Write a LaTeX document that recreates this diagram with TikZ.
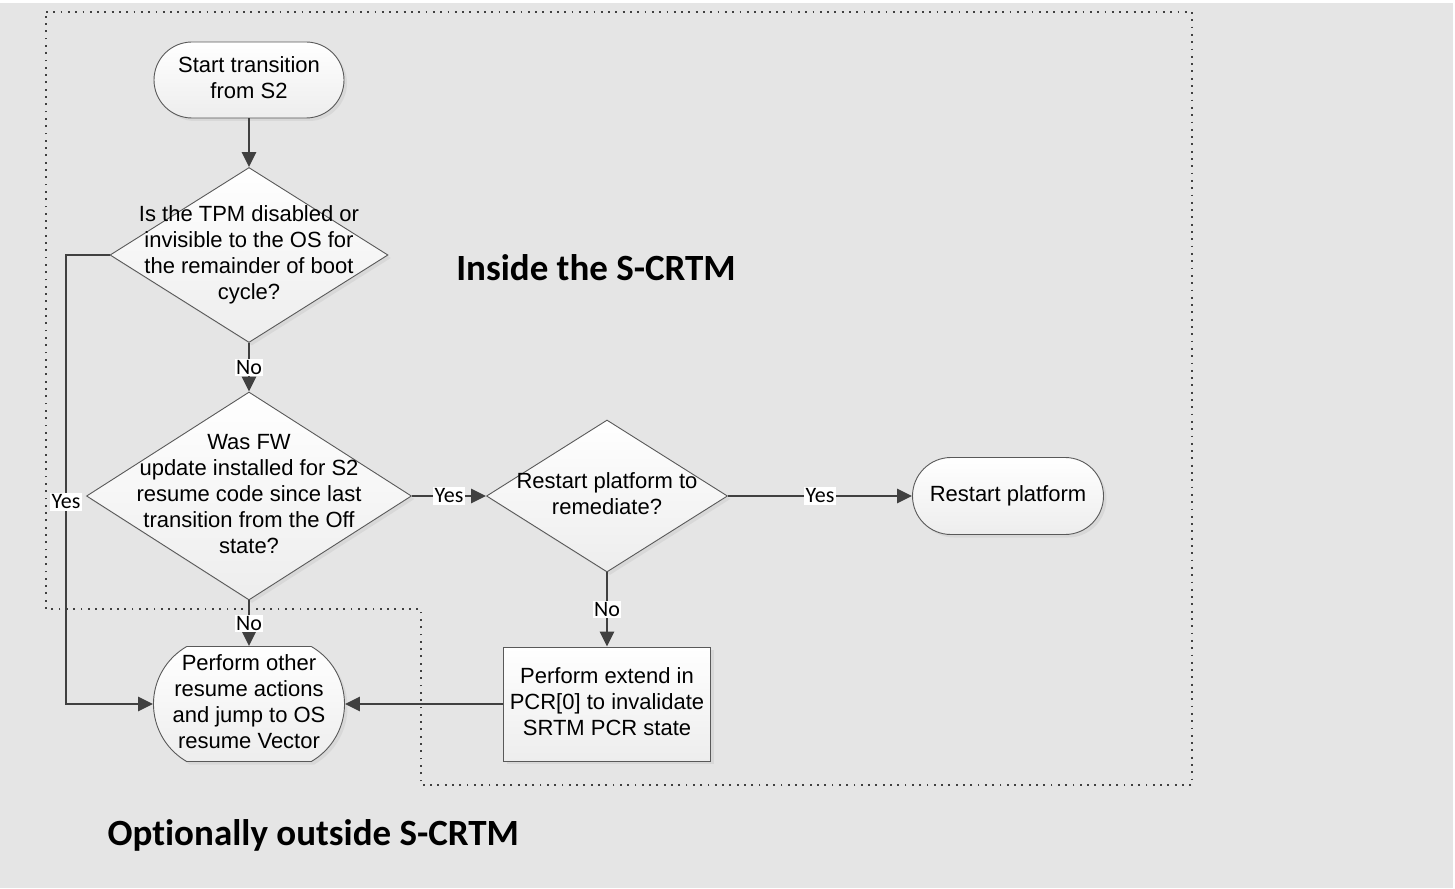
\documentclass[tikz,border=0pt]{standalone}
\usepackage{fontspec}
\setmainfont{Liberation Sans}
\newfontfamily\carlito{Carlito}[Ligatures=NoCommon]
\usetikzlibrary{shapes.geometric,shapes.misc,arrows.meta,shadows}
\newcommand{\flowtext}[1]{\smash{\makebox[0pt]{\raisebox{-.25em}{\begin{tabular}{@{}c@{}}#1\end{tabular}}}}}

\begin{document}
\begin{tikzpicture}[x=1pt, y=-1pt,
    flowbox/.style={draw=black!65, line width=.9pt, top color=white, bottom color=black!7,
      drop shadow={shadow xshift=3pt, shadow yshift=-3pt, opacity=.12},
      font=\fontsize{22}{26}\selectfont, inner sep=0pt},
    terminal/.style={flowbox, rounded rectangle},
    decision/.style={flowbox, diamond},
    process/.style={flowbox, rectangle},
    flowline/.style={draw=black!75, line width=2.9pt, -{Triangle[length=15pt,width=14pt]}},
    answer/.style={fill=white, font=\carlito\fontsize{22}{24}\selectfont, inner sep=1.5pt},
    zone/.style={draw=black!75, line width=1.8pt, dash pattern=on 1.8pt off 5.5pt},
    heading/.style={font=\carlito\bfseries\fontsize{37}{40}\selectfont}]
      \useasboundingbox (0,0) rectangle (1455,888);
      \fill [black!10] (0,3) rectangle (1453,888);
      \draw [zone] (46,12) -- (1192,12) -- (1192,785) -- (421,785) -- (421,609) -- (46,609) -- cycle;

      \node [terminal, minimum width=190pt, minimum height=76pt] (start) at (249,80) {\flowtext{Start transition\\from S2}};
      \node [decision, minimum width=278pt, minimum height=175pt] (tpm) at (249,255) {\flowtext{Is the TPM disabled or\\invisible to the OS for\\the remainder of boot\\cycle?}};
      \node [decision, minimum width=325pt, minimum height=208pt] (fwupd) at (249,496) {\flowtext{Was FW\\update installed for S2\\resume code since last\\transition from the Off\\state?}};
      \node [decision, minimum width=241pt, minimum height=152pt] (remedy) at (607,496) {\flowtext{Restart platform to\\remediate?}};
      \node [terminal, minimum width=191pt, minimum height=77pt] (restart) at (1008,496) {\flowtext{Restart platform}};
      \node [terminal, rounded rectangle arc length=120, minimum width=191pt, minimum height=115pt] (resume) at (249,704) {\flowtext{Perform other\\resume actions\\and jump to OS\\resume Vector}};
      \node [process, minimum width=207pt, minimum height=114pt] (extend) at (607,704) {\flowtext{Perform extend in\\PCR[0] to invalidate\\SRTM PCR state}};

      \coordinate (yesbend) at (66,255);
      \coordinate (yesfoot) at (66,704);
      \draw [flowline] (start) -- (tpm);
      \draw [flowline] (tpm.west) -- (yesbend) -- node [answer, pos=.55] {Yes} (yesfoot) -- (resume.west);
      \draw [flowline] (tpm) -- node [answer] {No} (fwupd);
      \draw [flowline] (fwupd) -- node [answer] {No} (resume);
      \draw [flowline] (fwupd) -- node [answer] {Yes} (remedy);
      \draw [flowline] (remedy) -- node [answer] {Yes} (restart);
      \draw [flowline] (remedy) -- node [answer] {No} (extend);
      \draw [flowline] (extend) -- (resume);

      \node [heading] (inside) at (596,268) {Inside the S-CRTM};
      \node [heading, anchor=west] (outside) at (104,835) {Optionally outside S-CRTM};
    \end{tikzpicture}
\end{document}
